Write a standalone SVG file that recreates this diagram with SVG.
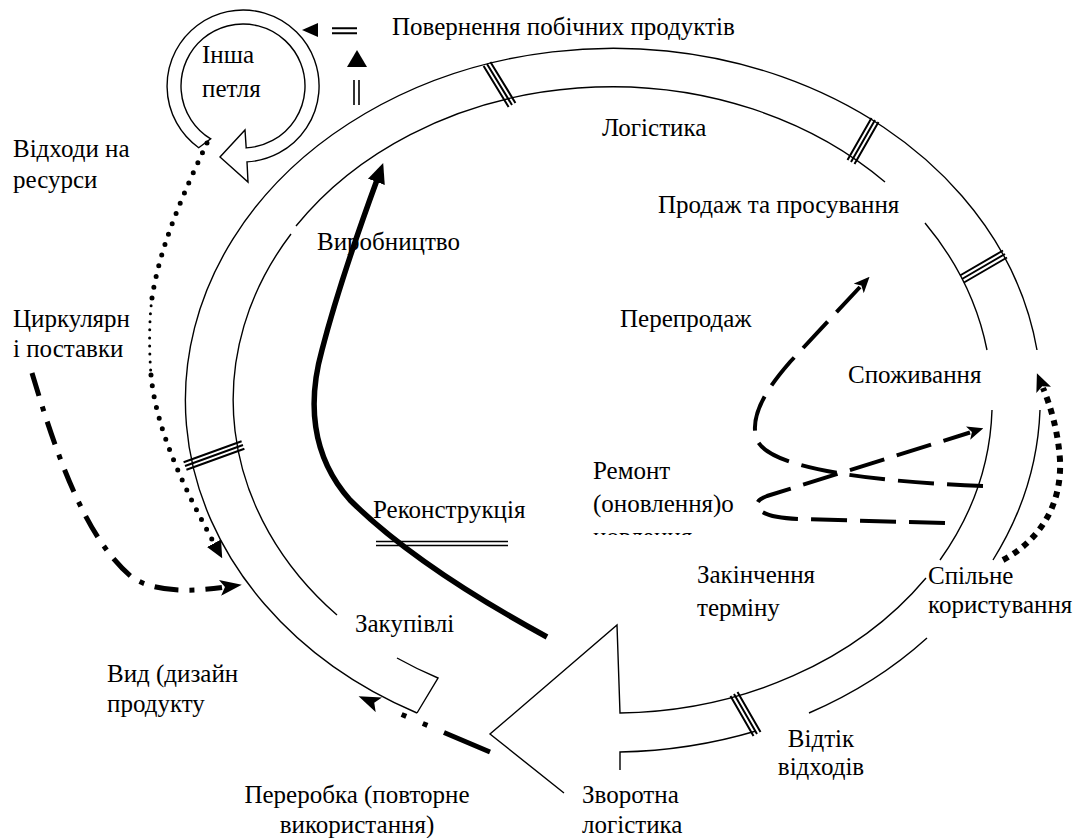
<svg xmlns="http://www.w3.org/2000/svg" width="1078" height="838" viewBox="0 0 1078 838">
<style>
.t{font-family:'Liberation Serif','Times New Roman',serif;font-size:25px;fill:#000}
.ln{fill:none;stroke:#000;stroke-width:1.4}
.tb{fill:none;stroke:#000;stroke-width:2}
.bold{fill:none;stroke:#000;stroke-width:5.5}
.dash{fill:none;stroke:#000;stroke-width:4;stroke-dasharray:36 13}
.sq{fill:none;stroke:#000;stroke-width:6;stroke-dasharray:6 6}
.rd{fill:none;stroke:#000;stroke-width:5;stroke-linecap:round;stroke-dasharray:0 11}
.rd2{fill:none;stroke:#000;stroke-width:3;stroke-linecap:round;stroke-dasharray:0 8}
.dd{fill:none;stroke:#000;stroke-width:5;stroke-dasharray:24 11 5 11}
.dd2{fill:none;stroke:#000;stroke-width:5;stroke-dasharray:50 18 5 18 5 40}
</style>
<defs>
<marker id="mBold" viewBox="0 0 20 18" refX="2" refY="9" markerWidth="20" markerHeight="18" markerUnits="userSpaceOnUse" orient="auto"><path d="M0,0 L20,9 L0,18 z"/></marker>
<marker id="mDash" viewBox="0 0 16 14" refX="2" refY="7" markerWidth="16" markerHeight="14" markerUnits="userSpaceOnUse" orient="auto"><path d="M0,0 L16,7 L0,14 L4,7 z"/></marker>
<marker id="mSq" viewBox="0 0 18 16" refX="2" refY="8" markerWidth="18" markerHeight="16" markerUnits="userSpaceOnUse" orient="auto"><path d="M0,0 L18,8 L0,16 L4,8 z"/></marker>
<marker id="mRd" viewBox="0 0 17 16" refX="2" refY="8" markerWidth="17" markerHeight="16" markerUnits="userSpaceOnUse" orient="auto"><path d="M0,0 L17,8 L0,16 z"/></marker>
<marker id="mDD" viewBox="0 0 22 16" refX="2" refY="8" markerWidth="22" markerHeight="16" markerUnits="userSpaceOnUse" orient="auto"><path d="M0,0 L22,8 L0,16 L5,8 z"/></marker>
<clipPath id="clipCut"><rect x="588" y="530" width="130" height="5"/></clipPath>
</defs>
<rect width="1078" height="838" fill="#fff"/>

<g id="ring">
<path class="ln" d="M417,713 A428,352 0 1 1 1037,350"/>
<path class="ln" d="M1040,410 A428,352 0 0 1 993,560"/>
<path class="ln" d="M927,638 A428,352 0 0 1 809,713"/>
<path class="ln" d="M756,731 A428,352 0 0 1 620,752 L620,770"/>
<path class="ln" d="M397,658 A380,313 0 0 0 438,678 L417,713"/>
<path class="ln" d="M337,615 A380,313 0 0 1 291,234"/>
<path class="ln" d="M296,226 A380,313 0 0 1 885,182"/>
<path class="ln" d="M925,223 A380,313 0 0 1 987,350"/>
<path class="ln" d="M992,410 A380,313 0 0 1 940,560"/>
<path class="ln" d="M926,578 A380,313 0 0 1 620,713 L617,625 L490,734 L564,793"/>
</g>

<g id="bars">
<path class="tb" d="M490.4,61.9 L515.4,102.9 M487,64 L512,105 M483.6,66.1 L508.6,107.1"/>
<path class="tb" d="M878.5,122 L854.5,164 M875,120 L851,162 M871.5,118 L847.5,160"/>
<path class="tb" d="M1007,257.5 L964,282.5 M1005,254 L962,279 M1003,250.5 L960,275.5"/>
<path class="tb" d="M186.4,469.8 L244.4,448.8 M185,466 L243,445 M183.6,462.2 L241.6,441.2"/>
<path class="tb" d="M737.5,692 L760.5,732 M734,694 L757,734 M730.5,696 L753.5,736"/>
<path class="ln" d="M376,541.5 L508,541.5 M376,545.5 L508,545.5" style="stroke-width:1.6"/>
</g>

<g id="loop">
<path d="M198.7,147.7 A76,76 0 1 1 247,161.9 L248,182 L220,157 L245,130 L246.2,147.9 A62,62 0 1 0 210.7,138.9 Z" fill="#fff" stroke="#000" stroke-width="1.4"/>
<text class="t" x="202" y="63">Інша</text>
<text class="t" x="202" y="97">петля</text>
</g>

<g id="byproducts">
<polygon points="302,30 318,23 318,37"/>
<path class="tb" d="M332,28.3 L357,28.3 M332,33.3 L357,33.3"/>
<polygon points="357,50 347,67 367,67"/>
<path class="tb" d="M354,80 L354,105 M359,80 L359,105" style="stroke-width:1.6"/>
<text class="t" x="392" y="35">Повернення побічних продуктів</text>
</g>

<g id="connectors">
<path class="bold" d="M547,637 C470,595 400,550 350,500 C310,455 308,400 322,350 C335,300 355,240 377,180" marker-end="url(#mBold)"/>
<path class="dash" d="M983,486 C880,482 770,470 757,440 C748,415 770,385 790,362 L860,287" marker-end="url(#mDash)"/>
<path class="dash" d="M945,523 L800,519 C770,518 756,512 757,504 C758,500 762,498 767,496 L970,432.5" marker-end="url(#mDash)"/>
<path class="sq" d="M1003,560 C1040,540 1062,505 1060,460 C1058,430 1050,405 1043,388" marker-end="url(#mSq)"/>
<path class="rd" d="M207,143 C185,190 160,245 152,298"/>
<path class="rd2" d="M152,298 C149,320 149,350 151,375"/>
<path class="rd" d="M151,375 C156,430 185,490 215,545" marker-end="url(#mRd)"/>
<path class="dd" d="M32,373 C55,450 85,540 133,578 C155,592 190,592 222,587.5" marker-end="url(#mDD)"/>
<path class="dd2" d="M490,752 L377,704" marker-end="url(#mDD)"/>
</g>

<g id="labels">
<text class="t" x="13" y="157">Відходи на</text>
<text class="t" x="13" y="188">ресурси</text>
<text class="t" x="13" y="327">Циркулярн</text>
<text class="t" x="13" y="357">і поставки</text>
<text class="t" x="602" y="136">Логістика</text>
<text class="t" x="658" y="213">Продаж та просування</text>
<text class="t" x="317" y="250">Виробництво</text>
<text class="t" x="620" y="327">Перепродаж</text>
<text class="t" x="848" y="383">Споживання</text>
<text class="t" x="593" y="479">Ремонт</text>
<text class="t" x="593" y="512">(оновлення)о</text>
<text class="t" x="593" y="545" clip-path="url(#clipCut)">новлення</text>
<text class="t" x="373" y="518">Реконструкція</text>
<text class="t" x="355" y="632">Закупівлі</text>
<text class="t" x="697" y="583">Закінчення</text>
<text class="t" x="697" y="616">терміну</text>
<text class="t" x="928" y="584">Спільне</text>
<text class="t" x="928" y="613">користування</text>
<text class="t" x="107" y="682">Вид (дизайн</text>
<text class="t" x="107" y="712">продукту</text>
<text class="t" x="357" y="803" text-anchor="middle">Переробка (повторне</text>
<text class="t" x="357" y="833" text-anchor="middle">використання)</text>
<text class="t" x="582" y="803">Зворотна</text>
<text class="t" x="582" y="833">логістика</text>
<text class="t" x="821" y="747" text-anchor="middle">Відтік</text>
<text class="t" x="821" y="775" text-anchor="middle">відходів</text>
</g>
</svg>
